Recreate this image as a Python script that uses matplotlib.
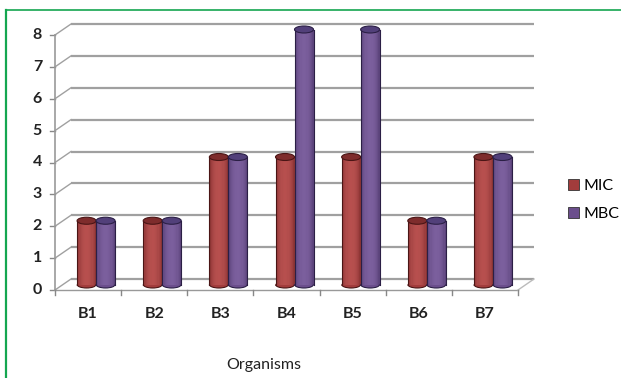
import matplotlib
matplotlib.use("Agg")
import matplotlib.pyplot as plt
from matplotlib.patches import Rectangle, Ellipse, Arc, Patch
import numpy as np

plt.rcParams['font.family'] = ['Lato', 'DejaVu Sans']

categories = ["B1", "B2", "B3", "B4", "B5", "B6", "B7"]
mic = [2, 2, 4, 4, 4, 2, 4]
mbc = [2, 2, 4, 8, 8, 2, 4]
yticks = [0, 1, 2, 3, 4, 5, 6, 7, 8]
series = [("MIC", mic, "#a23c3c", "#c25a58", "#7e2c2c", "#4a1515"),
          ("MBC", mbc, "#6b4e8c", "#8468a6", "#52407a", "#2b1f45")]

W, H = 621, 378
fig = plt.figure(figsize=(W / 100, H / 100), dpi=100)
# plot area (front plane) in pixels
L, R, T, B = 55, 518, 35, 290
ax = fig.add_axes([L / W, (H - B) / H, (R - L) / W, (B - T) / H])
ax.set_xlim(0, len(categories))
ax.set_ylim(0, 8)
ax.axis('off')

# depth offset (pixels -> data units)
px_x = len(categories) / (R - L)
px_y = 8 / (B - T)
DX, DY = 16 * px_x, 11 * px_y
grid_c = '#a0a0a0'

# back wall gridlines and side-wall diagonals
for v in yticks:
    ax.plot([DX, len(categories) + DX], [v + DY, v + DY], color=grid_c, lw=1.6,
            clip_on=False, zorder=1, solid_capstyle='butt')
    ax.plot([0, DX], [v, v + DY], color=grid_c, lw=1.0, clip_on=False, zorder=1)
    # y tick
    ax.plot([-5 * px_x, 0], [v, v], color='#888888', lw=1.0, clip_on=False, zorder=1)
    ax.text(-13 * px_x, v, str(v), ha='right', va='center', fontsize=11.5,
            fontweight='bold', color='#222222')

# floor
n = len(categories)
ax.plot([0, n], [0, 0], color='#999999', lw=1.0, clip_on=False, zorder=1)
ax.plot([n, n + DX], [0, DY], color='#bbbbbb', lw=1.0, clip_on=False, zorder=1)
ax.plot([0, 0], [0, 8], color='#999999', lw=1.2, clip_on=False, zorder=1)
for i in range(n + 1):
    ax.plot([i, i], [0, -5 * px_y], color='#888888', lw=1.0, clip_on=False, zorder=1)
for i, c in enumerate(categories):
    ax.text(i + 0.5, -17 * px_y, c, ha='center', va='top', fontsize=11.5,
            fontweight='bold', color='#222222')

ax.text(3.15, -75 * px_y, "Organisms", ha='center', va='center', fontsize=11.5,
        color='#222222')

# cylinders
bw = 19 * px_x
eh = 7 * px_y
nstrip = 16
z = 3
for i in range(n):
    for k, (name, vals, base, light, topc, edge) in enumerate(series):
        v = vals[i]
        x0 = i + 0.5 - bw + k * bw + DX / 2
        yb = DY / 2
        yt = v + DY / 2
        xc = x0 + bw / 2
        ax.add_patch(Ellipse((xc, yb), bw, eh, facecolor=base, edgecolor='none',
                             zorder=z, clip_on=False))
        bc = np.array(matplotlib.colors.to_rgb(base))
        lc = np.array(matplotlib.colors.to_rgb(light))
        ec = np.array(matplotlib.colors.to_rgb(edge))
        for s in range(nstrip):
            t = (s + 0.5) / nstrip
            f = np.sin(np.pi * t) ** 0.6
            col = (ec * (1 - f) + bc * f) * 0.35 + (bc * (1 - f) + lc * f) * 0.65
            ax.add_patch(Rectangle((x0 + s * bw / nstrip, yb), bw / nstrip * 1.05, yt - yb,
                                   facecolor=np.clip(col, 0, 1), edgecolor='none',
                                   zorder=z, clip_on=False))
        ax.add_patch(Arc((xc, yb), bw, eh, theta1=180, theta2=360, color=edge,
                         lw=0.8, zorder=z + 0.1, clip_on=False))
        ax.plot([x0, x0], [yb, yt], color=edge, lw=0.8, zorder=z + 0.1, clip_on=False)
        ax.plot([x0 + bw, x0 + bw], [yb, yt], color=edge, lw=0.8, zorder=z + 0.1,
                clip_on=False)
        ax.add_patch(Ellipse((xc, yt), bw, eh, facecolor=topc, edgecolor=edge,
                             lw=0.8, zorder=z + 0.2, clip_on=False))
        z += 0.5

# legend
handles = [Patch(facecolor=s[2], edgecolor='#333333', lw=0.6) for s in series]
fig.legend(handles, [s[0] for s in series], loc='center left',
           bbox_to_anchor=(568 / W, 1 - 200 / H), frameon=False, fontsize=11.5,
           handlelength=0.7, handleheight=0.7, handletextpad=0.3, labelspacing=0.9,
           borderaxespad=0, borderpad=0)

# green frame
green = '#14a650'
fig.add_artist(plt.Line2D([6 / W, 6 / W], [0, 1 - 10 / H], color=green, lw=1.6,
                          transform=fig.transFigure))
fig.add_artist(plt.Line2D([6 / W, 1], [1 - 10 / H, 1 - 10 / H], color=green, lw=1.2,
                          transform=fig.transFigure))

fig.savefig("out.png", dpi=100, facecolor='white')
